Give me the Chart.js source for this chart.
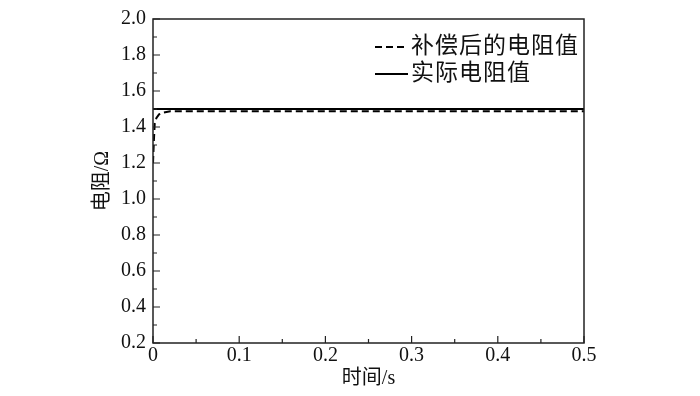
<!DOCTYPE html>
<html>
<head>
<meta charset="utf-8">
<script src="https://cdn.jsdelivr.net/npm/chart.js@4"></script>
<style>
  html, body { margin: 0; padding: 0; background: #fff; }
  #wrap { width: 700px; height: 396px; }
</style>
</head>
<body>
<div id="wrap"><canvas id="grafico" width="700" height="396"></canvas></div>
<script>
// datos
const tiempoComp = [0, 0.001, 0.002, 0.004, 0.007, 0.012, 0.02, 0.5];
const resComp = [1.2, 1.32, 1.42, 1.45, 1.47, 1.48, 1.488, 1.488];
const tiempoReal = [0, 0.5];
const resReal = [1.5, 1.5];
const etiquetas = ['补偿后的电阻值', '实际电阻值'];
const ticksX = [0, 0.1, 0.2, 0.3, 0.4, 0.5];
const ticksY = [0.2, 0.4, 0.6, 0.8, 1.0, 1.2, 1.4, 1.6, 1.8, 2.0];

const fuenteNum = '"Liberation Serif", "Times New Roman", serif';
const fuenteCJK = '"Liberation Serif", "Noto Sans CJK SC", serif';

// marco, ticks hacia adentro y leyenda
const marcoPlugin = {
  id: 'marco',
  afterDatasetsDraw(chart) {
    const { ctx, chartArea: a, scales: { x, y } } = chart;
    ctx.save();
    ctx.strokeStyle = '#222';
    ctx.lineWidth = 1.5;
    ctx.strokeRect(a.left, a.top, a.right - a.left, a.bottom - a.top);

    ctx.lineWidth = 1.2;
    ctx.beginPath();
    ticksX.forEach((v, i) => {
      const px = x.getPixelForValue(v);
      ctx.moveTo(px, a.bottom); ctx.lineTo(px, a.bottom - 7);
      if (i < ticksX.length - 1) {
        const pm = x.getPixelForValue(v + 0.05);
        ctx.moveTo(pm, a.bottom); ctx.lineTo(pm, a.bottom - 4);
      }
    });
    ticksY.forEach((v, i) => {
      const py = y.getPixelForValue(v);
      ctx.moveTo(a.left, py); ctx.lineTo(a.left + 7, py);
      if (i < ticksY.length - 1) {
        const pm = y.getPixelForValue(v + 0.1);
        ctx.moveTo(a.left, pm); ctx.lineTo(a.left + 4, pm);
      }
    });
    ctx.stroke();

    // leyenda
    const lx = 375, ly = [47, 74];
    ctx.strokeStyle = '#000';
    ctx.lineWidth = 2;
    ctx.setLineDash([7, 4]);
    ctx.beginPath(); ctx.moveTo(lx, ly[0]); ctx.lineTo(lx + 33, ly[0]); ctx.stroke();
    ctx.setLineDash([]);
    ctx.beginPath(); ctx.moveTo(lx, ly[1]); ctx.lineTo(lx + 33, ly[1]); ctx.stroke();
    ctx.fillStyle = '#111';
    ctx.font = '23px ' + fuenteCJK;
    ctx.letterSpacing = '1px';
    ctx.textBaseline = 'middle';
    ctx.fillText(etiquetas[0], lx + 36, ly[0]);
    ctx.fillText(etiquetas[1], lx + 36, ly[1]);
    ctx.restore();
  }
};

const config = {
  type: 'scatter',
  data: {
    datasets: [{
      label: etiquetas[0],
      data: tiempoComp.map((t, i) => ({ x: t, y: resComp[i] })),
      showLine: true,
      borderColor: '#000',
      borderWidth: 2,
      borderDash: [7, 4],
      pointRadius: 0,
      tension: 0
    }, {
      label: etiquetas[1],
      data: tiempoReal.map((t, i) => ({ x: t, y: resReal[i] })),
      showLine: true,
      borderColor: '#000',
      borderWidth: 2,
      pointRadius: 0,
      tension: 0
    }]
  },
  options: {
    responsive: false,
    animation: false,
    layout: { padding: { left: 91, right: 116, top: 15, bottom: 5 } },
    plugins: { legend: { display: false }, tooltip: { enabled: false } },
    scales: {
      x: {
        type: 'linear',
        min: 0, max: 0.5,
        afterFit: s => { s.height = 48; },
        afterBuildTicks: s => { s.ticks = ticksX.map(v => ({ value: v })); },
        grid: { display: false, drawTicks: false },
        border: { display: false },
        ticks: {
          padding: 1,
          color: '#111',
          font: { family: fuenteNum, size: 20 },
          maxRotation: 0,
          callback: v => (v === 0 ? '0' : v.toFixed(1))
        },
        title: {
          display: true,
          text: '时间/s',
          color: '#111',
          padding: 0,
          font: { family: fuenteCJK, size: 20 }
        }
      },
      y: {
        type: 'linear',
        min: 0.2, max: 2.0,
        afterFit: s => { s.width = 62; },
        afterBuildTicks: s => { s.ticks = ticksY.map(v => ({ value: v })); },
        grid: { display: false, drawTicks: false },
        border: { display: false },
        ticks: {
          padding: 7,
          color: '#111',
          font: { family: fuenteNum, size: 20 },
          callback: v => v.toFixed(1)
        },
        title: {
          display: true,
          text: '电阻/Ω',
          color: '#111',
          padding: 0,
          font: { family: fuenteCJK, size: 20 }
        }
      }
    }
  },
  plugins: [marcoPlugin]
};

new Chart(document.getElementById('grafico'), config);
</script>
</body>
</html>
